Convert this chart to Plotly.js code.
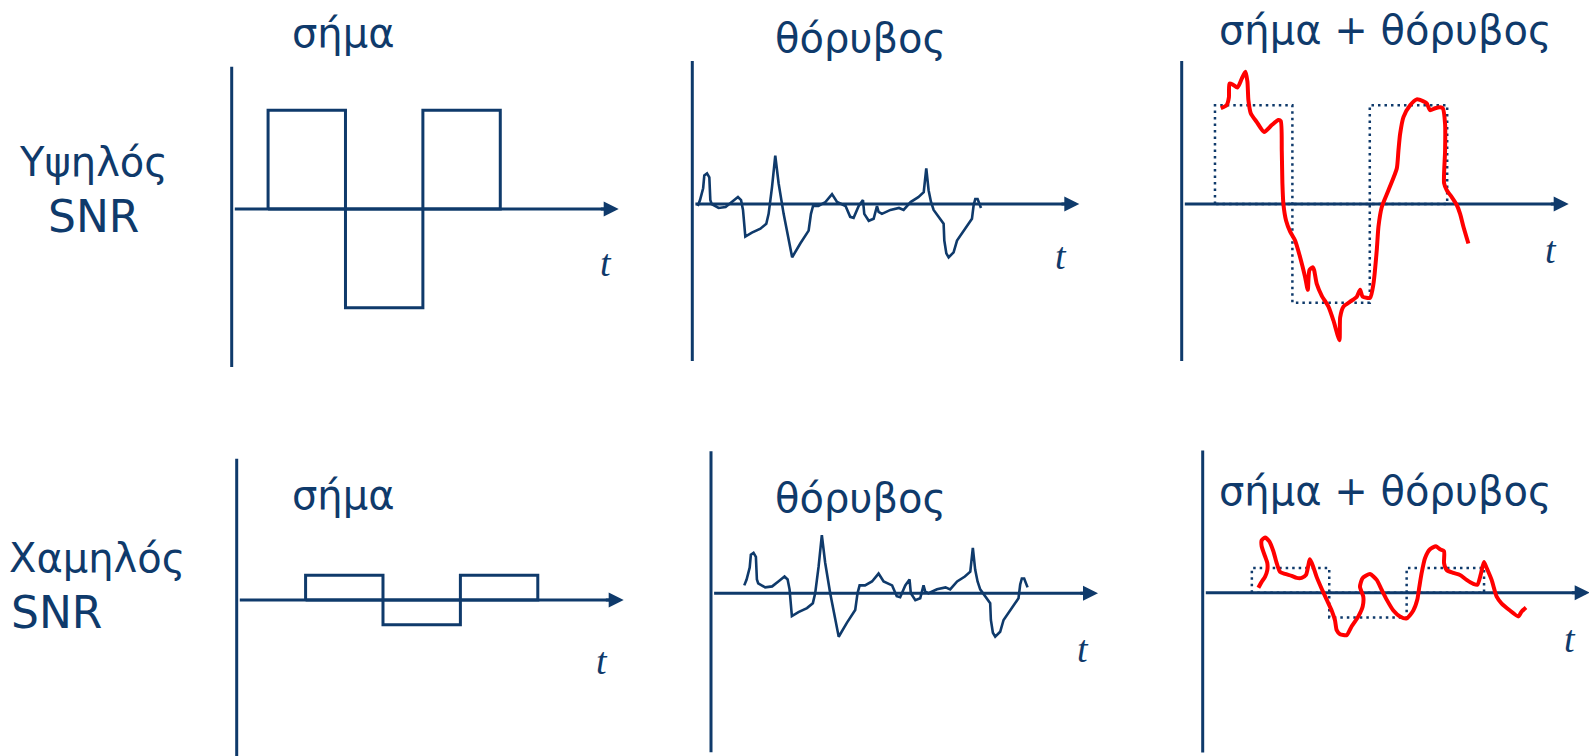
<!DOCTYPE html>
<html>
<head>
<meta charset="utf-8">
<script src="https://cdn.plot.ly/plotly-3.0.1.min.js"></script>
<style>
  html, body { margin: 0; padding: 0; background: #fff; }
  #chart { width: 1589px; height: 756px; }
</style>
</head>
<body>
<div id="chart"></div>
<script>
// square-wave signal: one time unit per pulse, drawn as closed boxes on the axis
const pulseT = [0, 0, 1, 1, 2, 2, 3, 3, 0];
const pulseA = [0, 1, 1, -1, -1, 1, 1, 0, 0];
const highAmp = 1;
const lowAmp = 0.25;

// noise (same shape in both rows)
const noiseT = [0.07, 0.10, 0.14, 0.155, 0.19, 0.22, 0.233, 0.25, 0.34, 0.43, 0.51, 0.59, 0.63, 0.655, 0.685,
  0.77, 0.88, 0.956, 0.986, 1.03, 1.072, 1.115, 1.18, 1.29, 1.395, 1.503, 1.533, 1.56, 1.63, 1.72, 1.805,
  1.87, 1.98, 2.04, 2.084, 2.15, 2.205, 2.222, 2.28, 2.343, 2.386, 2.407, 2.45, 2.56, 2.67, 2.73, 2.82,
  2.92, 2.99, 3.023, 3.053, 3.084, 3.118, 3.2, 3.247, 3.256, 3.282, 3.312, 3.376, 3.42, 3.484, 3.613,
  3.635, 3.656, 3.686, 3.712, 3.73];
const noiseA = [-0.02, 0.04, 0.16, 0.29, 0.31, 0.27, 0.04, 0.0, -0.04, -0.03, 0.02, 0.07, 0.04, -0.06, -0.33,
  -0.29, -0.25, -0.2, -0.1, 0.17, 0.49, 0.21, -0.1, -0.54, -0.4, -0.27, -0.1, -0.02, -0.02, 0.02, 0.1,
  0.02, -0.02, -0.13, -0.14, -0.02, 0.04, -0.1, -0.17, -0.15, -0.02, -0.08, -0.1, -0.06, -0.04, -0.06, 0.02,
  0.07, 0.12, 0.36, 0.14, 0.02, -0.06, -0.15, -0.2, -0.37, -0.5, -0.54, -0.49, -0.37, -0.3, -0.15,
  -0.01, 0.05, 0.05, -0.01, -0.04];

// signal + noise, high SNR
const sumHighT = [0.505, 0.58, 0.61, 0.617, 0.66, 0.72, 0.776, 0.823, 0.849, 0.862, 0.892, 0.97, 1.065, 1.164,
  1.25, 1.28, 1.293, 1.301, 1.314, 1.349, 1.401, 1.465, 1.53, 1.594, 1.629, 1.65, 1.693, 1.711, 1.745,
  1.81, 1.896, 1.96, 2.038, 2.047, 2.09, 2.176, 2.262, 2.305, 2.339, 2.434, 2.477, 2.52, 2.542, 2.585,
  2.671, 2.779, 2.8, 2.822, 2.865, 2.951, 3.037, 3.123, 3.166, 3.209, 3.274, 3.339, 3.373, 3.403, 3.403,
  3.39, 3.425, 3.489, 3.554, 3.597, 3.64, 3.704];
const sumHighA = [0.97, 1.0, 1.08, 1.22, 1.21, 1.18, 1.27, 1.34, 1.24, 1.05, 0.92, 0.83, 0.73, 0.8,
  0.85, 0.84, 0.54, 0.21, 0.0, -0.17, -0.28, -0.37, -0.54, -0.74, -0.87, -0.67, -0.64, -0.67, -0.81,
  -0.93, -1.04, -1.18, -1.38, -1.15, -1.04, -0.99, -0.94, -0.87, -0.94, -0.95, -0.81, -0.47, -0.23, -0.03,
  0.14, 0.36, 0.54, 0.71, 0.88, 1.0, 1.06, 1.04, 1.02, 0.95, 0.97, 0.98, 0.97, 0.81, 0.54,
  0.21, 0.14, 0.07, -0.01, -0.1, -0.23, -0.4];

// signal + noise, low SNR
const sumLowT = [0.719, 0.762, 0.805, 0.835, 0.835, 0.805, 0.762, 0.762, 0.805, 0.861, 0.913, 0.956, 0.999,
  1.063, 1.149, 1.214, 1.279, 1.335, 1.386, 1.429, 1.472, 1.537, 1.602, 1.666, 1.709, 1.731, 1.774,
  1.86, 1.925, 2.011, 2.067, 2.075, 2.032, 2.067, 2.161, 2.248, 2.312, 2.377, 2.463, 2.549, 2.635,
  2.721, 2.773, 2.799, 2.829, 2.872, 2.937, 3.014, 3.066, 3.118, 3.118, 3.152, 3.238, 3.324, 3.41,
  3.497, 3.548, 3.591, 3.634, 3.669, 3.733, 3.798, 3.863, 3.97, 4.078, 4.121, 4.177];
const sumLowA = [0.05, 0.11, 0.16, 0.23, 0.3, 0.37, 0.47, 0.53, 0.56, 0.52, 0.42, 0.3, 0.21,
  0.19, 0.17, 0.15, 0.15, 0.18, 0.34, 0.26, 0.16, 0.04, -0.07, -0.18, -0.28, -0.38, -0.42,
  -0.43, -0.34, -0.24, -0.14, -0.04, 0.06, 0.15, 0.19, 0.13, 0.03, -0.07, -0.18, -0.24, -0.26,
  -0.18, -0.07, 0.06, 0.2, 0.35, 0.44, 0.47, 0.44, 0.42, 0.3, 0.23, 0.2, 0.18, 0.13,
  0.09, 0.08, 0.18, 0.31, 0.25, 0.13, -0.04, -0.11, -0.18, -0.24, -0.19, -0.15];

const colTitles = ['σήμα', 'θόρυβος', 'σήμα + θόρυβος'];
const rowLabels = [['Υψηλός', 'SNR'], ['Χαμηλός', 'SNR']];

const W = 1589, H = 756;
const UX = 77.4, UY = 98.7;   // pixels per time unit / amplitude unit
const NAVY = '#0f3a6b';
const RED = '#ff0000';
const SANS = '"DejaVu Sans", "Noto Sans", sans-serif';

// origin (ox, oy) of each small plot, in pixels, and the box its axes cover
const panels = [
  { ox: 231.7, oy: 209, box: [180, 660, 50, 385], vline: [1.44, -1.6], tlab: [4.83, -0.55] },
  { ox: 692.3, oy: 204, box: [670, 1120, 50, 385], vline: [1.45, -1.59], tlab: [4.76, -0.53] },
  { ox: 1181.7, oy: 204, box: [1160, 1589, 50, 385], vline: [1.45, -1.59], tlab: [4.77, -0.47] },
  { ox: 236.7, oy: 600, box: [180, 660, 440, 756], vline: [1.43, -1.6], tlab: [4.72, -0.62] },
  { ox: 711, oy: 593.3, box: [690, 1140, 440, 756], vline: [1.44, -1.61], tlab: [4.8, -0.56] },
  { ox: 1202.7, oy: 592.7, box: [1180, 1589, 440, 756], vline: [1.44, -1.62], tlab: [4.74, -0.47] },
];

const layout = {
  width: W, height: H,
  margin: { l: 0, r: 0, t: 0, b: 0 },
  paper_bgcolor: '#fff', plot_bgcolor: 'rgba(0,0,0,0)',
  showlegend: false,
  shapes: [], annotations: [],
};

panels.forEach((p, i) => {
  const n = i === 0 ? '' : String(i + 1);
  const [l, r, t, b] = p.box;
  const hidden = { visible: false, showgrid: false, zeroline: false, fixedrange: true };
  layout['xaxis' + n] = Object.assign({ domain: [l / W, r / W], range: [(l - p.ox) / UX, (r - p.ox) / UX], anchor: 'y' + n }, hidden);
  layout['yaxis' + n] = Object.assign({ domain: [1 - b / H, 1 - t / H], range: [(p.oy - b) / UY, (p.oy - t) / UY], anchor: 'x' + n }, hidden);
  p.xa = 'x' + n; p.ya = 'y' + n;

  // vertical axis and time axis
  layout.shapes.push({ type: 'line', xref: p.xa, yref: p.ya, x0: 0, x1: 0, y0: p.vline[0], y1: p.vline[1],
    line: { color: NAVY, width: 3 }, layer: 'below' });
  layout.shapes.push({ type: 'line', xref: p.xa, yref: p.ya, x0: 0.04, x1: 4.9, y0: 0, y1: 0,
    line: { color: NAVY, width: 3 }, layer: 'below' });
  layout.annotations.push({ xref: p.xa, yref: p.ya, axref: p.xa, ayref: p.ya, x: 5.0, y: 0, ax: 4.75, ay: 0,
    text: '', showarrow: true, arrowhead: 2, arrowsize: 1, arrowwidth: 3, arrowcolor: NAVY, standoff: 0 });
  layout.annotations.push({ xref: p.xa, yref: p.ya, x: p.tlab[0], y: p.tlab[1], text: '<i>t</i>', showarrow: false,
    font: { family: '"Liberation Serif", "DejaVu Serif", serif', size: 38, color: NAVY } });
});

const pulse = (p, shift, amp, dash) => ({
  x: pulseT.map(v => v + shift), y: pulseA.map(v => v * amp),
  xaxis: p.xa, yaxis: p.ya, mode: 'lines', hoverinfo: 'skip',
  line: { color: NAVY, width: dash ? 2.5 : 3, dash: dash || 'solid' },
});
const noise = (p, dx, dy) => ({
  x: noiseT.map(v => v + dx), y: noiseA.map(v => v + dy),
  xaxis: p.xa, yaxis: p.ya, mode: 'lines', hoverinfo: 'skip',
  line: { color: NAVY, width: 2.6 },
});
const sum = (p, xs, ys) => ({
  x: xs, y: ys, xaxis: p.xa, yaxis: p.ya, mode: 'lines', hoverinfo: 'skip',
  line: { color: RED, width: 4, shape: 'spline', smoothing: 0.6 },
});

const data = [
  pulse(panels[0], 0.47, highAmp),
  noise(panels[1], 0, 0),
  pulse(panels[2], 0.43, highAmp, '2.5px,4px'),
  sum(panels[2], sumHighT, sumHighA),
  pulse(panels[3], 0.89, lowAmp),
  noise(panels[4], 0.36, 0.1),
  pulse(panels[5], 0.635, lowAmp, '2.5px,4px'),
  sum(panels[5], sumLowT, sumLowA),
];

// column titles and row labels, placed in pixels
const txt = (s, x, y, xanchor, size) => ({
  xref: 'paper', yref: 'paper', x: x / W, y: 1 - y / H, text: s, showarrow: false,
  xanchor: xanchor || 'center', yanchor: 'middle',
  font: { family: SANS, size: size || 40, color: NAVY },
});
layout.annotations.push(
  txt(colTitles[0], 343, 33), txt(colTitles[1], 860, 38), txt(colTitles[2], 1385, 30),
  txt(colTitles[0], 343, 495), txt(colTitles[1], 860, 498), txt(colTitles[2], 1385, 491),
  txt(rowLabels[0][0], 93, 162), txt(rowLabels[0][1], 93, 216, 'center', 44),
  txt(rowLabels[1][0], 7, 558, 'left'), txt(rowLabels[1][1], 9, 612, 'left', 44),
);

Plotly.newPlot('chart', data, layout, { staticPlot: true, displayModeBar: false });
</script>
</body>
</html>
